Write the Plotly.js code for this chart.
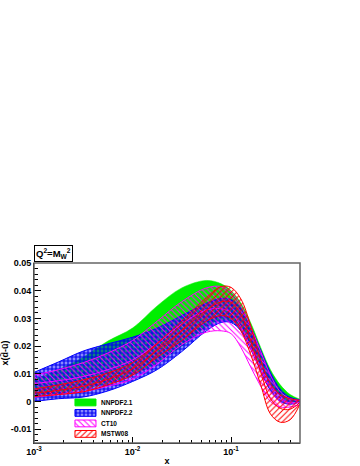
<!DOCTYPE html>
<html>
<head>
<meta charset="utf-8">
<script src="https://cdn.plot.ly/plotly-3.0.1.min.js"></script>
<style>
  html, body { margin: 0; padding: 0; background: #fff; }
  #chart { width: 360px; height: 466px; }
</style>
</head>
<body>
<div id="chart"></div>
<script>
// x grid (log spaced) and band edges
var xs = [0.001, 0.00178, 0.00316, 0.00562, 0.01, 0.0178, 0.0316, 0.0562, 0.0794, 0.1, 0.126, 0.158, 0.2, 0.251, 0.316, 0.398, 0.5];

var nn21Up = [0.008, 0.0115, 0.016, 0.0218, 0.0265, 0.0345, 0.041, 0.0437, 0.0425, 0.040, 0.0355, 0.0285, 0.0195, 0.0115, 0.006, 0.0025, 0.0008];
var nn21Lo = [0.002, 0.003, 0.0045, 0.0065, 0.0095, 0.014, 0.020, 0.027, 0.0295, 0.029, 0.026, 0.020, 0.013, 0.0065, 0.002, 0.0, 0.0];

var nn22Up = [0.0105, 0.0143, 0.0182, 0.0208, 0.0232, 0.0265, 0.031, 0.0355, 0.0372, 0.0368, 0.0335, 0.027, 0.0185, 0.0105, 0.0045, 0.0015, 0.0006];
var nn22Lo = [0.0, 0.001, 0.0016, 0.0038, 0.0072, 0.0115, 0.018, 0.0255, 0.0285, 0.0285, 0.0255, 0.019, 0.011, 0.004, 0.0, -0.001, -0.0002];

var ct10Up = [0.0095, 0.0115, 0.014, 0.0175, 0.022, 0.029, 0.036, 0.041, 0.0415, 0.0395, 0.0345, 0.027, 0.018, 0.0095, 0.0035, 0.001, 0.0004];
var ct10Mid = [0.0065, 0.0075, 0.009, 0.0115, 0.015, 0.021, 0.028, 0.033, 0.0335, 0.032, 0.027, 0.0195, 0.0115, 0.005, 0.0008, -0.0005, -0.0004];
var ct10Lo = [0.0015, 0.0025, 0.0035, 0.0055, 0.008, 0.0135, 0.0205, 0.025, 0.0255, 0.0245, 0.0195, 0.0125, 0.0055, 0.0, -0.002, -0.002, -0.0012];

var mstwUp = [0.0045, 0.006, 0.0078, 0.0103, 0.014, 0.021, 0.029, 0.0375, 0.0415, 0.0412, 0.037, 0.0275, 0.015, 0.0065, 0.0025, 0.001, 0.0004];
var mstwMid = [0.003, 0.004, 0.0055, 0.008, 0.0118, 0.0185, 0.0255, 0.033, 0.036, 0.0358, 0.0315, 0.022, 0.0105, 0.001, -0.0025, -0.0028, -0.0003];
var mstwLo = [0.0018, 0.0025, 0.0035, 0.006, 0.0095, 0.016, 0.022, 0.029, 0.031, 0.030, 0.0255, 0.017, 0.006, -0.0045, -0.0075, -0.0066, -0.001];

var names = ['NNPDF2.1', 'NNPDF2.2', 'CT10', 'MSTW08'];

var yTickVals = [-0.01, 0, 0.01, 0.02, 0.03, 0.04, 0.05];
var yTickText = ['-0.01', '0', '0.01', '0.02', '0.03', '0.04', '0.05'];
var xTickVals = [0.001, 0.01, 0.1];
var xTickText = ['10<sup>-3</sup>', '10<sup>-2</sup>', '10<sup>-1</sup>'];

function bold(s) { return '<b>' + s + '</b>'; }

// styles for each band
var styles = [
  {line: '#00ee00', width: 0.5, fillcolor: '#00ee00', pattern: null},
  {line: '#0000ff', width: 1, fillcolor: 'rgba(0,0,255,0.45)',
   pattern: {shape: '+', fgcolor: '#0000ee', bgcolor: 'rgba(20,20,255,0.5)', size: 4, solidity: 0.5}},
  {line: '#ff00ff', width: 1, fillcolor: 'rgba(0,0,0,0)',
   pattern: {shape: '\\', fgcolor: '#ff00ff', bgcolor: 'rgba(0,0,0,0)', size: 4, solidity: 0.25}},
  {line: '#ff0000', width: 1, fillcolor: 'rgba(0,0,0,0)',
   pattern: {shape: '/', fgcolor: '#ff0000', bgcolor: 'rgba(0,0,0,0)', size: 4, solidity: 0.25}}
];
var bands = [[nn21Lo, nn21Up], [nn22Lo, nn22Up], [ct10Lo, ct10Up], [mstwLo, mstwUp]];
var mids = [null, null, ct10Mid, mstwMid];

var traces = [];
bands.forEach(function(b, i) {
  var s = styles[i];
  traces.push({
    x: xs, y: b[0], type: 'scatter', mode: 'lines', showlegend: false, hoverinfo: 'skip',
    line: {color: s.line, width: s.width, shape: 'spline', smoothing: 1}
  });
  var up = {
    x: xs, y: b[1], type: 'scatter', mode: 'lines', name: names[i], showlegend: false,
    fill: 'tonexty', fillcolor: s.fillcolor,
    line: {color: s.line, width: s.width, shape: 'spline', smoothing: 1}
  };
  if (s.pattern) up.fillpattern = s.pattern;
  traces.push(up);
  if (mids[i]) {
    traces.push({
      x: xs, y: mids[i], type: 'scatter', mode: 'lines', showlegend: false, hoverinfo: 'skip',
      line: {color: s.line, width: 1, shape: 'spline', smoothing: 1}
    });
  }
});

// hand-drawn legend (plotly's own legend rows are too tall here)
var legU0 = 0.154, legU1 = 0.233, legTop = 0.2444, legRow = 0.0583, legBox = 0.038;
var annotations = [];
names.forEach(function(n, i) {
  var s = styles[i];
  var v1 = legTop - i * legRow, v0 = v1 - legBox;
  var sw = {
    x: [legU0, legU1, legU1, legU0, legU0], y: [v0, v0, v1, v1, v0],
    xaxis: 'x2', yaxis: 'y2', type: 'scatter', mode: 'lines', showlegend: false, hoverinfo: 'skip',
    fill: 'toself', fillcolor: s.fillcolor,
    line: {color: s.line, width: 1}
  };
  if (s.pattern) sw.fillpattern = s.pattern;
  traces.push(sw);
  annotations.push({
    xref: 'paper', yref: 'paper', x: 0.244, y: (v0 + v1) / 2, xanchor: 'left', yanchor: 'middle',
    text: bold(n), showarrow: false,
    font: {family: 'Liberation Sans', size: 6.5, color: '#000'}
  });
});

annotations.push({
  xref: 'paper', yref: 'paper', x: 0, y: 1, xanchor: 'left', yanchor: 'bottom', yshift: 1,
  text: bold('Q<sup>2</sup>=M<sub>W</sub><sup>2</sup>'), showarrow: false,
  bordercolor: '#000', borderwidth: 1, borderpad: 1, bgcolor: '#fff',
  font: {family: 'Liberation Sans', size: 9.5, color: '#000'}
});

var xMinor = [];
[0.001, 0.01, 0.1].forEach(function(d) {
  for (var k = 2; k <= 9; k++) if (k * d <= 0.5) xMinor.push(k * d);
});

var tickFont = {family: 'Liberation Sans', size: 9, color: '#000'};
var titleFont = {family: 'Liberation Sans', size: 9, color: '#000'};

var layout = {
  width: 360, height: 466,
  margin: {l: 34, r: 60, t: 263, b: 23},
  paper_bgcolor: '#fff', plot_bgcolor: '#fff',
  showlegend: false,
  xaxis: {
    type: 'log', range: [-3, -0.3],
    tickmode: 'array', tickvals: xTickVals, ticktext: xTickText.map(bold),
    ticks: 'inside', ticklen: 6, tickcolor: '#000', tickwidth: 1,
    minor: {tickvals: xMinor, ticks: 'inside', ticklen: 3, tickcolor: '#000'},
    showline: true, linecolor: '#000', linewidth: 1, mirror: false,
    showgrid: false, zeroline: false,
    tickfont: tickFont,
    title: {text: bold('x'), font: titleFont, standoff: 2}
  },
  yaxis: {
    range: [-0.015, 0.05],
    tickmode: 'array', tickvals: yTickVals, ticktext: yTickText.map(bold),
    ticks: 'inside', ticklen: 7, tickcolor: '#000', tickwidth: 1,
    minor: {tick0: 0, dtick: 0.002, ticks: 'inside', ticklen: 3.5, tickcolor: '#000'},
    showline: true, linecolor: '#000', linewidth: 1, mirror: false,
    showgrid: false, zeroline: false,
    tickfont: tickFont,
    title: {text: bold('x(d\u0304-u\u0304)'), font: titleFont, standoff: 2}
  },
  xaxis2: {overlaying: 'x', range: [0, 1], visible: false, fixedrange: true},
  yaxis2: {overlaying: 'y', range: [0, 1], visible: false, fixedrange: true},
  shapes: [{
    type: 'rect', xref: 'paper', yref: 'paper', x0: 0, x1: 1, y0: 0, y1: 1,
    line: {color: '#666', width: 1.5}, fillcolor: 'rgba(0,0,0,0)', layer: 'above'
  }],
  annotations: annotations
};

Plotly.newPlot('chart', traces, layout, {displayModeBar: false});
</script>
</body>
</html>
